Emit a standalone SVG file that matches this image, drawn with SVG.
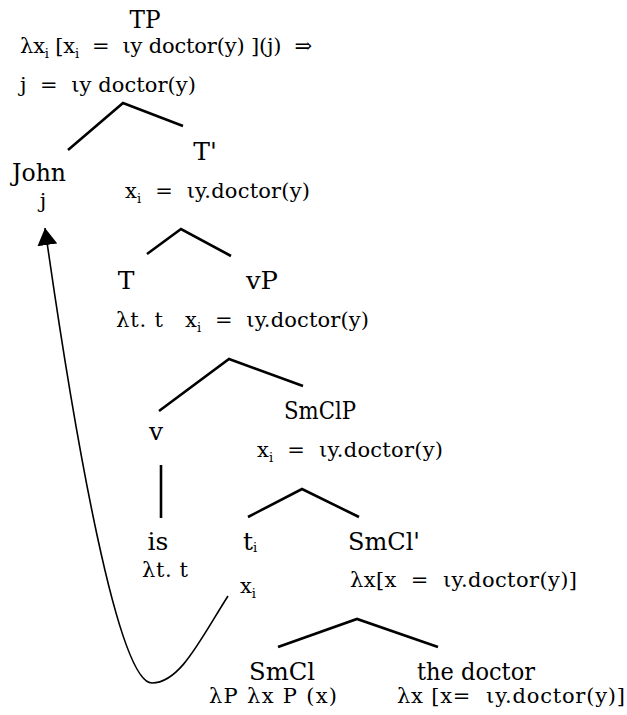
<svg xmlns="http://www.w3.org/2000/svg" width="627" height="715" viewBox="0 0 627 715">
<style>
text{font-family:"DejaVu Serif","Liberation Serif",serif;fill:#000;white-space:pre}
.lab{font-size:25px;text-anchor:middle}
.frm{font-size:21px}
.sub{font-size:13px}
.br{fill:none;stroke:#000;stroke-width:2.6}
.mv{fill:none;stroke:#000;stroke-width:1.6}
</style>
<defs>
<marker id="ah" markerUnits="userSpaceOnUse" markerWidth="18" markerHeight="21" refX="17" refY="10" orient="auto" viewBox="0 0 18 21">
<path d="M0,0 L17,10 L0,20 z" fill="#000"/>
</marker>
</defs>
<g id="TP">
<text class="lab" x="145" y="28" textLength="31" lengthAdjust="spacingAndGlyphs">TP</text>
<text class="frm" x="20" y="53" textLength="292" lengthAdjust="spacing">λx<tspan class="sub" dy="5">i</tspan><tspan dy="-5"> [x</tspan><tspan class="sub" dy="5">i</tspan><tspan dy="-5">  =  ιy doctor(y) ](j)  ⇒</tspan></text>
<text class="frm" x="20" y="92" textLength="176" lengthAdjust="spacing">j  =  ιy doctor(y)</text>
</g>
<g id="John">
<text class="lab" x="39" y="181" textLength="54" lengthAdjust="spacingAndGlyphs">John</text>
<text class="frm" x="43" y="208" text-anchor="middle">j</text>
</g>
<g id="Tbar">
<text class="lab" x="205" y="160">T'</text>
<text class="frm" x="125" y="198" textLength="185" lengthAdjust="spacing">x<tspan class="sub" dy="5">i</tspan><tspan dy="-5">  =  ιy.doctor(y)</tspan></text>
</g>
<g id="T">
<text class="lab" x="126" y="289">T</text>
<text class="frm" x="116" y="327" textLength="47" lengthAdjust="spacing">λt. t</text>
</g>
<g id="vP">
<text class="lab" x="262" y="289" textLength="32" lengthAdjust="spacingAndGlyphs">vP</text>
<text class="frm" x="185" y="327" textLength="184" lengthAdjust="spacing">x<tspan class="sub" dy="5">i</tspan><tspan dy="-5">  =  ιy.doctor(y)</tspan></text>
</g>
<g id="v">
<text class="lab" x="156" y="440">v</text>
</g>
<g id="SmClP">
<text class="lab" x="320" y="419" textLength="72" lengthAdjust="spacingAndGlyphs">SmClP</text>
<text class="frm" x="257" y="457" textLength="186" lengthAdjust="spacing">x<tspan class="sub" dy="5">i</tspan><tspan dy="-5">  =  ιy.doctor(y)</tspan></text>
</g>
<g id="is">
<text class="lab" x="158" y="550">is</text>
<text class="frm" x="142" y="577" textLength="46" lengthAdjust="spacing">λt. t</text>
</g>
<g id="ti">
<text class="lab" x="250" y="550">t<tspan class="sub" dy="2">i</tspan></text>
<text class="frm" x="240" y="593">x<tspan class="sub" dy="5">i</tspan></text>
</g>
<g id="SmClbar">
<text class="lab" x="384" y="550" textLength="72" lengthAdjust="spacingAndGlyphs">SmCl'</text>
<text class="frm" x="350" y="587" textLength="227" lengthAdjust="spacing">λx[x  =  ιy.doctor(y)]</text>
</g>
<g id="SmCl">
<text class="lab" x="282" y="680" textLength="66" lengthAdjust="spacingAndGlyphs">SmCl</text>
<text class="frm" x="209" y="703" textLength="128" lengthAdjust="spacing">λP λx P (x)</text>
</g>
<g id="thedoctor">
<text class="lab" x="476" y="680" textLength="118" lengthAdjust="spacingAndGlyphs">the doctor</text>
<text class="frm" x="397" y="703" textLength="228" lengthAdjust="spacing">λx [x=  ιy.doctor(y)]</text>
</g>
<g id="connectors">
<polyline class="br" points="68,150 123,103 183,126"/>
<polyline class="br" points="147,254 181,229 231,256"/>
<polyline class="br" points="159,411 229,359 303,386"/>
<line class="br" x1="161" y1="465" x2="161" y2="518"/>
<polyline class="br" points="248,517 302,489 359,517"/>
<polyline class="br" points="278,647 357,619 438,647"/>
<path class="mv" d="M228,596 C200,640 180,683 152,683 C118,683 75,440 45,228" marker-end="url(#ah)"/>
</g>
</svg>
